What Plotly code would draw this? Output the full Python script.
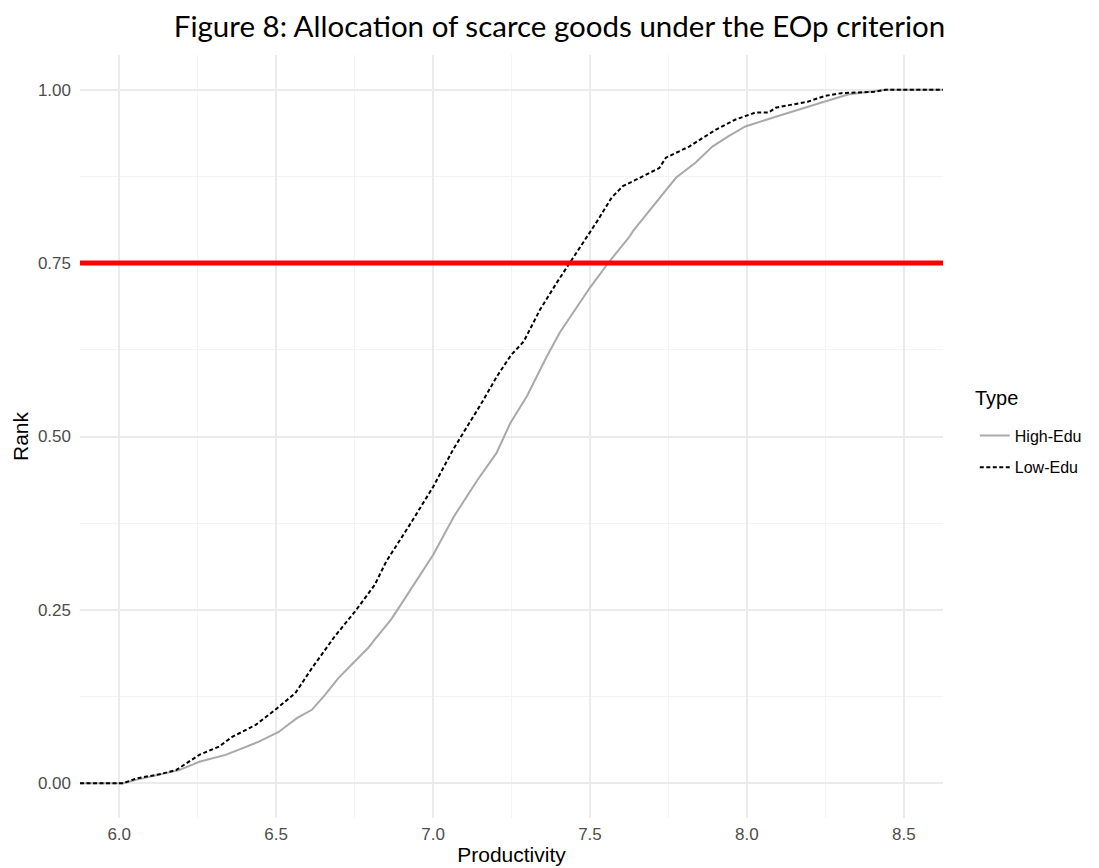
import plotly.graph_objects as go

# ---- data (approximate ECDF points) ----
low_x = [5.875, 6.012, 6.054, 6.128, 6.181, 6.255, 6.318, 6.360, 6.434, 6.497,
         6.561, 6.614, 6.687, 6.751, 6.814, 6.851, 6.929, 7.001, 7.065, 7.104,
         7.157, 7.204, 7.248, 7.289, 7.341, 7.396, 7.436, 7.460, 7.499, 7.521,
         7.570, 7.605, 7.668, 7.721, 7.742, 7.816, 7.900, 7.964, 8.027, 8.069,
         8.092, 8.196, 8.249, 8.301, 8.407, 8.443, 8.625]
low_y = [0.0, 0.0, 0.007, 0.013, 0.019, 0.041, 0.053, 0.067, 0.084, 0.106,
         0.130, 0.166, 0.212, 0.2475, 0.286, 0.320, 0.375, 0.428, 0.482, 0.510,
         0.550, 0.587, 0.617, 0.637, 0.683, 0.723, 0.750, 0.767, 0.793, 0.809,
         0.845, 0.861, 0.875, 0.887, 0.902, 0.918, 0.942, 0.957, 0.967, 0.967,
         0.974, 0.983, 0.991, 0.995, 0.997, 1.0, 1.0]

high_x = [5.875, 6.012, 6.054, 6.128, 6.191, 6.255, 6.339, 6.445, 6.508, 6.566,
          6.592, 6.614, 6.655, 6.697, 6.740, 6.793, 6.814, 6.866, 6.898, 6.951,
          7.001, 7.067, 7.141, 7.202, 7.246, 7.299, 7.362, 7.404, 7.455, 7.499,
          7.563, 7.626, 7.637, 7.721, 7.774, 7.837, 7.890, 7.942, 7.995, 8.092,
          8.196, 8.249, 8.322, 8.375, 8.440, 8.625]
high_y = [0.0, 0.0, 0.005, 0.012, 0.019, 0.031, 0.041, 0.060, 0.074, 0.094,
          0.101, 0.106, 0.127, 0.151, 0.171, 0.195, 0.207, 0.236, 0.258, 0.295,
          0.330, 0.385, 0.437, 0.476, 0.519, 0.558, 0.615, 0.650, 0.685, 0.714,
          0.753, 0.788, 0.796, 0.844, 0.873, 0.895, 0.918, 0.933, 0.947, 0.961,
          0.976, 0.983, 0.993, 0.996, 1.0, 1.0]

threshold = 0.75
x_ticks = [6.0, 6.5, 7.0, 7.5, 8.0, 8.5]
x_tick_labels = ["6.0", "6.5", "7.0", "7.5", "8.0", "8.5"]
y_ticks = [0.0, 0.25, 0.5, 0.75, 1.0]
y_tick_labels = ["0.00", "0.25", "0.50", "0.75", "1.00"]

fig = go.Figure()
fig.add_trace(go.Scatter(x=high_x, y=high_y, mode="lines", name="High-Edu",
                         legendgroup="high",
                         line=dict(color="#A9A9A9", width=2)))
fig.add_trace(go.Scatter(x=low_x, y=low_y, mode="lines", name="Low-Edu",
                         legendgroup="low",
                         line=dict(color="black", width=2, dash="4px,2.5px")))
fig.add_hline(y=threshold, line=dict(color="#FF0000", width=5))

sans = "Liberation Sans, Arial, sans-serif"
tick_font = dict(family=sans, size=17, color="#4D4D4D")
title_font = dict(family=sans, size=21, color="black")

fig.add_annotation(text="Type", xref="paper", yref="paper",
                   x=(979 - 80) / 869, xanchor="left",
                   y=(818 - 398) / 763, yanchor="middle",
                   showarrow=False, font=dict(family=sans, size=20, color="black"))

fig.update_layout(
    width=1099, height=868,
    margin=dict(l=80, r=150, t=55, b=50),
    paper_bgcolor="white", plot_bgcolor="white",
    title=dict(text="Figure 8: Allocation of scarce goods under the EOp criterion",
               x=559.5 / 1099, xanchor="center", xref="container",
               y=1 - 27 / 868, yanchor="middle", yref="container",
               font=dict(family="Lato, sans-serif", size=29.5, color="black")),
    legend=dict(font=dict(family=sans, size=16, color="black"),
                x=(981 - 80) / 869, xanchor="left",
                y=(818 - 451.5) / 763, yanchor="middle",
                itemwidth=30, tracegroupgap=8, bgcolor="rgba(0,0,0,0)"),
    xaxis=dict(range=[5.875, 8.625], tickvals=x_ticks, ticktext=x_tick_labels,
               showgrid=True, gridcolor="#EBEBEB", gridwidth=1.5, zeroline=False,
               showline=False, ticks="", tickfont=tick_font, ticklabelstandoff=4,
               minor=dict(dtick=0.25, tick0=6.0, showgrid=True, gridcolor="#F3F3F3", gridwidth=1),
               title=dict(text="Productivity", font=title_font, standoff=4),
               automargin=False),
    yaxis=dict(range=[-0.05, 1.05], tickvals=y_ticks, ticktext=y_tick_labels,
               showgrid=True, gridcolor="#EBEBEB", gridwidth=1.5, zeroline=False,
               showline=False, ticks="", tickfont=tick_font, ticklabelstandoff=8,
               minor=dict(dtick=0.125, tick0=0.0, showgrid=True, gridcolor="#F3F3F3", gridwidth=1),
               title=dict(text="Rank", font=title_font, standoff=3),
               automargin=False),
)

fig.write_html("out.html")
